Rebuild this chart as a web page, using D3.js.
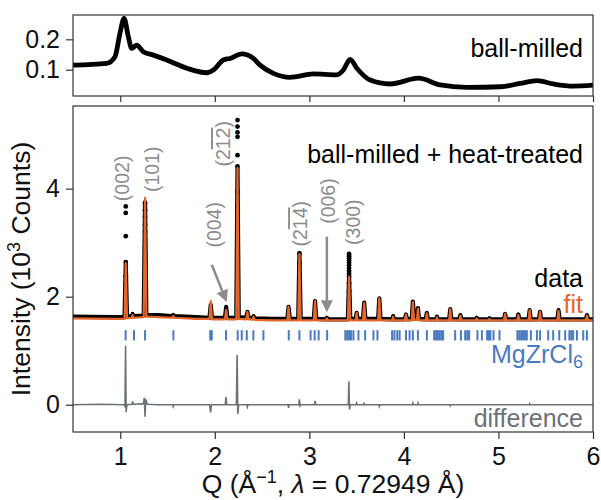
<!DOCTYPE html>
<html><head><meta charset="utf-8">
<script src="https://cdn.jsdelivr.net/npm/d3@7"></script>
<style>body{margin:0;background:#fff} text{font-family:"Liberation Sans",Arial,sans-serif}</style>
</head><body><svg id="c" width="601" height="500"></svg>
<script>
// ---------- DATA ----------
// top panel: ball-milled
const topQ = [0.5,0.857,0.944,0.997,1.040,1.085,1.121,1.174,1.244,1.350,1.492,1.703,1.915,1.985,2.090,2.161,2.285,2.408,2.479,2.620,2.796,3.043,3.290,3.360,3.431,3.502,3.643,3.854,4.154,4.384,4.666,5.026,5.230,5.407,5.583,5.795,6.0];
const topI = [0.115,0.121,0.143,0.220,0.269,0.209,0.170,0.181,0.159,0.148,0.132,0.105,0.090,0.099,0.132,0.137,0.152,0.137,0.115,0.088,0.075,0.086,0.083,0.099,0.134,0.105,0.066,0.053,0.072,0.050,0.042,0.044,0.055,0.064,0.053,0.046,0.049];

// main panel: fit (orange) and observed (black) profile vertices
const mainQ = [0.50,0.90,1.045,1.058,1.071,1.120,1.130,1.140,1.248,1.262,1.276,1.40,1.548,1.560,1.572,1.80,1.944,1.957,1.970,2.107,2.120,2.133,2.227,2.240,2.253,2.332,2.345,2.358,2.398,2.410,2.422,2.60,2.767,2.780,2.793,2.882,2.895,2.908,3.047,3.060,3.073,3.175,3.185,3.195,3.407,3.420,3.433,3.490,3.500,3.510,3.567,3.580,3.593,3.727,3.740,3.753,3.876,3.886,3.896,4.010,4.022,4.034,4.083,4.095,4.107,4.138,4.148,4.160,4.230,4.242,4.254,4.340,4.350,4.360,4.478,4.490,4.502,4.585,4.597,4.609,4.760,4.770,4.780,4.895,4.905,4.915,5.058,5.070,5.082,5.198,5.210,5.222,5.318,5.330,5.342,5.428,5.440,5.452,5.623,5.635,5.647,5.924,5.936,5.948,6.00];
const fitI  = [1.60,1.59,1.59,2.62,1.60,1.61,1.66,1.61,1.62,3.83,1.63,1.62,1.61,1.64,1.61,1.59,1.59,1.92,1.58,1.58,1.75,1.58,1.58,4.38,1.59,1.58,1.72,1.58,1.58,1.63,1.57,1.56,1.56,1.81,1.56,1.56,2.79,1.56,1.56,1.92,1.56,1.56,1.60,1.56,1.56,2.37,1.56,1.56,1.70,1.56,1.56,1.88,1.56,1.56,1.97,1.56,1.56,1.63,1.56,1.56,1.67,1.56,1.56,1.90,1.57,1.57,1.78,1.56,1.56,1.69,1.56,1.56,1.62,1.56,1.56,1.77,1.56,1.56,1.65,1.56,1.56,1.60,1.56,1.56,1.59,1.56,1.56,1.68,1.56,1.56,1.66,1.56,1.56,1.75,1.56,1.56,1.72,1.56,1.56,1.74,1.56,1.56,1.65,1.56,1.56];
const obsI  = [1.63,1.62,1.62,2.62,1.63,1.64,1.68,1.64,1.65,3.75,1.66,1.66,1.64,1.66,1.64,1.62,1.61,1.85,1.61,1.61,1.81,1.61,1.61,4.38,1.62,1.61,1.72,1.61,1.60,1.64,1.60,1.59,1.59,1.81,1.59,1.59,2.80,1.59,1.59,1.92,1.59,1.58,1.61,1.58,1.58,2.37,1.59,1.59,1.70,1.59,1.59,1.89,1.59,1.59,1.97,1.59,1.58,1.64,1.58,1.58,1.67,1.58,1.59,1.91,1.60,1.60,1.79,1.59,1.58,1.70,1.58,1.58,1.63,1.58,1.58,1.77,1.58,1.58,1.66,1.58,1.58,1.61,1.58,1.58,1.60,1.58,1.58,1.68,1.58,1.58,1.67,1.58,1.58,1.75,1.58,1.58,1.72,1.58,1.58,1.75,1.58,1.58,1.66,1.58,1.58];

// observed points visible on the tall peaks
const dotQ = [1.058,1.058,1.058,1.058,1.058,1.058,1.058,1.058,1.058,
  1.262,1.262,1.262,1.262,1.262,1.262,1.262,1.262,1.262,1.262,1.262,1.262,1.262,1.262,
  2.240,2.240,2.240,2.240,2.240,2.240,2.240,2.240,2.240,2.240,2.240,2.240,2.240,2.240,2.240,2.240,
  2.895,2.895,2.895,2.895,2.895,2.895,
  3.420,3.420,3.420,3.420,3.420,3.420,3.420,3.420,3.420,3.420,3.420,3.420,3.420,3.420];
const dotI = [3.67,3.55,3.12,2.64,2.38,2.22,2.07,1.93,1.80,
  3.73,3.60,3.48,3.33,3.20,3.05,2.93,2.80,2.65,2.49,2.37,2.22,2.06,1.91,
  5.27,5.15,5.04,4.96,4.62,4.41,3.94,3.67,3.42,3.14,2.93,2.68,2.43,2.22,2.00,1.81,
  2.80,2.62,2.42,2.22,2.02,1.85,
  2.79,2.75,2.71,2.67,2.63,2.58,2.53,2.48,2.43,2.38,2.25,2.10,1.95,1.80];

// difference curve
const diffQ = [0.50,0.80,1.040,1.050,1.056,1.062,1.070,1.125,1.131,1.137,1.245,1.255,1.262,1.269,1.285,1.40,1.555,1.560,1.565,1.945,1.955,1.965,2.110,2.118,2.127,2.228,2.236,2.243,2.252,2.338,2.344,2.350,2.60,2.774,2.780,2.786,2.888,2.895,2.902,2.910,3.054,3.061,3.068,3.412,3.418,3.424,3.432,3.495,3.500,3.505,3.575,3.580,3.585,3.735,3.740,3.745,4.090,4.095,4.100,4.145,4.150,4.155,4.485,4.490,4.495,5.325,5.330,5.335,6.00];
const diffI = [0.00,0.01,0.00,-0.03,1.09,-0.14,0.00,0.01,0.06,0.01,0.02,0.13,-0.22,0.10,0.01,0.00,0.00,-0.03,0.00,0.00,-0.14,0.00,0.00,0.14,0.00,0.00,0.92,-0.17,0.00,0.00,-0.04,0.00,0.00,0.00,-0.06,0.00,0.00,0.10,-0.02,0.00,0.00,0.07,0.00,0.00,0.43,-0.09,0.00,0.00,0.03,0.00,0.00,0.04,0.00,0.00,-0.03,0.00,0.00,0.03,0.00,0.00,0.03,0.00,0.00,-0.02,0.00,0.00,0.02,0.00,0.00];

// MgZrCl6 reflection positions
const reflQ = [1.057,1.145,1.262,1.562,1.952,1.967,2.119,2.242,2.285,2.338,2.408,2.514,2.782,2.895,3.013,3.056,3.098,3.188,3.38,3.40,3.42,3.44,3.466,3.519,3.59,3.678,3.72,3.875,3.90,3.93,3.955,4.022,4.06,4.095,4.148,4.243,4.32,4.34,4.36,4.38,4.40,4.415,4.542,4.603,4.648,4.67,4.69,4.778,4.825,4.88,4.90,4.915,4.948,5.011,5.20,5.22,5.24,5.26,5.28,5.30,5.343,5.407,5.44,5.526,5.579,5.643,5.706,5.75,5.77,5.79,5.83,5.897,5.936];
const reflLow = 1.19, reflHigh = 1.38;

// peak annotations ("~" puts an overbar on the next digit)
const hklLabels = ["(002)","(101)","(004)","(2~1~2)","(2~1~4)","(006)","(300)"];
const hklQ = [1.019,1.336,1.992,2.087,2.902,3.193,3.463];
const hklI = [4.19,4.36,3.33,4.83,3.35,3.77,3.38];
// arrows: [fromQ, fromI, toQ, toI]
const arrows = [[1.968,2.59,2.126,1.90],[3.185,3.11,3.185,1.71]];

const xTicks = [1,2,3,4,5,6];
const yTicksMain = [0,2,4];
const yTicksTop = [0.1,0.2];

// ---------- DRAW ----------
const svg = d3.select("#c");
const L = 73, R = 593, T1 = 15, B1 = 96, T2 = 106, B2 = 432;
const x = d3.scaleLinear([0.5,6],[L,R]);
const yT = d3.scaleLinear([0.0135,0.28],[B1,T1]);
const yM = d3.scaleLinear([-0.505,5.53],[B2,T2]);
const FRAME = "#333";
const ORANGE = "#e4662c", BLUE = "#4a7bc0", DGRAY = "#6c7278", LGRAY = "#8c8c8c";
const FS = 25, FSL = 26.5;

const defs = svg.append("defs");
defs.append("clipPath").attr("id","cp1").append("rect").attr("x",L).attr("y",T1).attr("width",R-L).attr("height",B1-T1);
defs.append("clipPath").attr("id","cp2").append("rect").attr("x",L).attr("y",T2).attr("width",R-L).attr("height",B2-T2);

function styleAxis(g, fs){
  g.select(".domain").remove();
  g.selectAll(".tick line").attr("stroke",FRAME).attr("stroke-width",1.2);
  g.selectAll(".tick text").attr("fill","#111").attr("font-size",fs).attr("font-family","Liberation Sans, Arial, sans-serif");
}

// top panel
const gT = svg.append("g");
gT.append("g").attr("transform",`translate(0,${B1})`)
  .call(d3.axisBottom(x).tickValues(xTicks).tickSize(6).tickFormat(""))
  .call(g=>styleAxis(g,FS));
gT.append("g").attr("transform",`translate(${L},0)`)
  .call(d3.axisLeft(yT).tickValues(yTicksTop).tickSize(7).tickPadding(6).tickFormat(d3.format(".1f")))
  .call(g=>styleAxis(g,FS));
gT.append("path").attr("clip-path","url(#cp1)")
  .datum(topQ.map((q,i)=>[q,topI[i]]))
  .attr("fill","none").attr("stroke","#000").attr("stroke-width",4.8).attr("stroke-linejoin","round")
  .attr("d",d3.line().x(d=>x(d[0])).y(d=>yT(d[1])).curve(d3.curveMonotoneX));
gT.append("rect").attr("x",L).attr("y",T1).attr("width",R-L).attr("height",B1-T1)
  .attr("fill","none").attr("stroke",FRAME).attr("stroke-width",1.2);
gT.append("text").attr("x",583).attr("y",56.5).attr("text-anchor","end").attr("font-size",FS).text("ball-milled");

// main panel
const gM = svg.append("g");
gM.append("g").attr("transform",`translate(0,${B2})`)
  .call(d3.axisBottom(x).tickValues(xTicks).tickSize(7).tickPadding(8).tickFormat(d3.format("d")))
  .call(g=>styleAxis(g,FS));
gM.append("g").attr("transform",`translate(${L},0)`)
  .call(d3.axisLeft(yM).tickValues(yTicksMain).tickSize(7).tickPadding(6).tickFormat(d3.format("d")))
  .call(g=>styleAxis(g,FS));

const plot = gM.append("g").attr("clip-path","url(#cp2)");
const line = d3.line().x(d=>x(d[0])).y(d=>yM(d[1]));
// difference
plot.append("path").datum(diffQ.map((q,i)=>[q,diffI[i]]))
  .attr("fill","none").attr("stroke",DGRAY).attr("stroke-width",1.6).attr("d",line);
// reflections
plot.selectAll("line.refl").data(reflQ).join("line").attr("class","refl")
  .attr("x1",d=>x(d)).attr("x2",d=>x(d)).attr("y1",yM(reflLow)).attr("y2",yM(reflHigh))
  .attr("stroke",BLUE).attr("stroke-width",2);
// observed
plot.append("path").datum(mainQ.map((q,i)=>[q,obsI[i]]))
  .attr("fill","none").attr("stroke","#000").attr("stroke-width",4.2).attr("stroke-linejoin","round").attr("d",line);
plot.selectAll("circle.obs").data(dotQ.map((q,i)=>[q,dotI[i]])).join("circle").attr("class","obs")
  .attr("cx",d=>x(d[0])).attr("cy",d=>yM(d[1])).attr("r",2.4).attr("fill","#000");
// fit
plot.append("path").datum(mainQ.map((q,i)=>[q,fitI[i]]))
  .attr("fill","none").attr("stroke",ORANGE).attr("stroke-width",2.2).attr("stroke-linejoin","round").attr("d",line);

// hkl labels
hklLabels.forEach((lab,i)=>{
  const t = gM.append("text").attr("transform",`translate(${x(hklQ[i])},${yM(hklI[i])}) rotate(-90)`)
    .attr("text-anchor","middle").attr("dominant-baseline","central").attr("font-size",19.5).attr("fill",LGRAY);
  const parts = lab.split(/(~\d)/).filter(s=>s.length);
  parts.forEach(p=>{
    if(p[0]==="~") t.append("tspan").attr("text-decoration","overline").style("text-decoration","overline").text(p[1]);
    else t.append("tspan").text(p);
  });
});
// arrows
arrows.forEach(a=>{
  const x1=x(a[0]), y1=yM(a[1]), x2=x(a[2]), y2=yM(a[3]);
  const ang = Math.atan2(y2-y1,x2-x1), hl=12, hw=6;
  const bx = x2-hl*Math.cos(ang), by = y2-hl*Math.sin(ang);
  gM.append("line").attr("x1",x1).attr("y1",y1).attr("x2",bx).attr("y2",by).attr("stroke",LGRAY).attr("stroke-width",2.5);
  gM.append("path").attr("fill",LGRAY)
    .attr("d",`M${x2},${y2}L${bx+hw*Math.sin(ang)},${by-hw*Math.cos(ang)}L${bx-hw*Math.sin(ang)},${by+hw*Math.cos(ang)}Z`);
});

gM.append("rect").attr("x",L).attr("y",T2).attr("width",R-L).attr("height",B2-T2)
  .attr("fill","none").attr("stroke",FRAME).attr("stroke-width",1.2);

// legend-style texts
gM.append("text").attr("x",583).attr("y",163).attr("text-anchor","end").attr("font-size",FS).text("ball-milled + heat-treated");
gM.append("text").attr("x",583).attr("y",287).attr("text-anchor","end").attr("font-size",FS).text("data");
gM.append("text").attr("x",583).attr("y",313).attr("text-anchor","end").attr("font-size",FS).attr("fill",ORANGE).text("fit");
const mg = gM.append("text").attr("x",583).attr("y",363).attr("text-anchor","end").attr("font-size",FS).attr("fill",BLUE);
mg.append("tspan").text("MgZrCl");
mg.append("tspan").attr("font-size",18).attr("dy",5).text("6");
gM.append("text").attr("x",583).attr("y",427).attr("text-anchor","end").attr("font-size",FS).attr("fill",DGRAY).text("difference");

// axis labels
const xl = svg.append("text").attr("x",(L+R)/2).attr("y",493).attr("text-anchor","middle").attr("font-size",FSL).attr("fill","#111");
xl.append("tspan").text("Q (Å");
xl.append("tspan").attr("font-size",18).attr("dy",-10).text("−1");
xl.append("tspan").attr("dy",10).text(", ");
xl.append("tspan").attr("font-style","italic").text("λ");
xl.append("tspan").text(" = 0.72949 Å)");

const yl = svg.append("text").attr("transform",`translate(30,${(T2+B2)/2}) rotate(-90)`).attr("text-anchor","middle").attr("font-size",FSL).attr("fill","#111");
yl.append("tspan").text("Intensity (10");
yl.append("tspan").attr("font-size",18).attr("dy",-10).text("3");
yl.append("tspan").attr("dy",10).text(" Counts)");
</script></body></html>
